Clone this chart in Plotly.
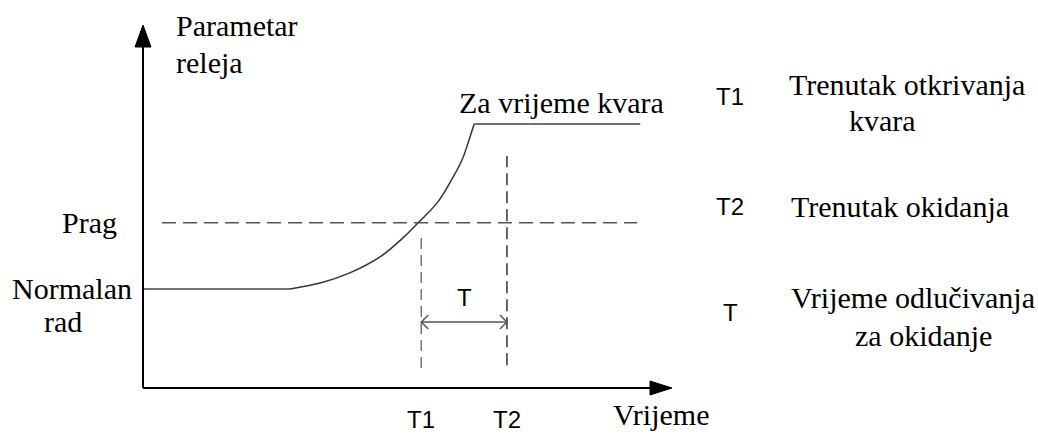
import plotly.graph_objects as go

# relay parameter against time, axis units: origin at (0, 0), axis arrows end at 10
normal_x = [0.0, 2.78]
normal_y = [2.73, 2.73]
rise_x = [2.78, 3.35, 3.91, 4.48, 4.91, 5.20, 5.56, 5.80, 6.03, 6.18, 6.26]
rise_y = [2.73, 2.89, 3.17, 3.61, 4.13, 4.55, 5.10, 5.65, 6.28, 6.91, 7.27]
fault_x = [6.26, 9.40]
fault_y = [7.27, 7.27]

threshold = 4.55
threshold_x = [0.36, 9.34]
t1, t2 = 5.26, 6.88
t1_span = [0.55, 4.27]
t2_span = [0.63, 6.39]
delay_y = 1.82

key_labels = ["T1", "T2", "T"]
key_lines = [["Trenutak otkrivanja", "kvara"], ["Trenutak okidanja"],
             ["Vrijeme odlučivanja", "za okidanje"]]

# pixel scale of the axes (px per unit) used for arrowhead sizes
px_x = 52.9
px_y = 36.3
W, H = 1038, 434
ox, oy = 143, 388   # origin of the axes, px from top-left

SERIF = "'Liberation Serif', 'Times New Roman', serif"
SANS = "'Liberation Sans', Arial, sans-serif"

fig = go.Figure()

fig.add_trace(go.Scatter(x=normal_x, y=normal_y, mode="lines",
                         line=dict(color="#444", width=1.5)))
fig.add_trace(go.Scatter(x=rise_x, y=rise_y, mode="lines",
                         line=dict(color="#333", width=1.5, shape="spline")))
fig.add_trace(go.Scatter(x=fault_x, y=fault_y, mode="lines",
                         line=dict(color="#444", width=1.5)))

# threshold and the two moments
fig.add_trace(go.Scatter(x=threshold_x, y=[threshold, threshold], mode="lines",
                         line=dict(color="#555", width=1.5, dash="14px,7px")))
fig.add_trace(go.Scatter(x=[t1, t1], y=t1_span, mode="lines",
                         line=dict(color="#777", width=1.5, dash="11px,6px")))
fig.add_trace(go.Scatter(x=[t2, t2], y=t2_span, mode="lines",
                         line=dict(color="#333", width=1.5, dash="12px,6px")))
fig.add_trace(go.Scatter(x=[t1, t2], y=[delay_y, delay_y], mode="lines",
                         line=dict(color="#555", width=1.5)))

shapes = []
# axes with filled arrowheads
hl_y, hw_x = 22 / px_y, 8 / px_x
hl_x, hw_y = 22 / px_x, 7 / px_y
shapes.append(dict(type="line", x0=0, y0=0, x1=0, y1=10 - hl_y,
                   line=dict(color="black", width=2)))
shapes.append(dict(type="line", x0=0, y0=0, x1=10 - hl_x, y1=0,
                   line=dict(color="black", width=2)))
shapes.append(dict(type="path",
                   path=f"M0,10 L{-hw_x},{10 - hl_y} L{hw_x},{10 - hl_y} Z",
                   fillcolor="black", line=dict(color="black", width=1)))
shapes.append(dict(type="path",
                   path=f"M10,0 L{10 - hl_x},{hw_y} L{10 - hl_x},{-hw_y} Z",
                   fillcolor="black", line=dict(color="black", width=1)))
# open chevrons of the delay arrow
cx, cy = 7 / px_x, 7 / px_y
shapes.append(dict(type="path",
                   path=f"M{t1 + cx},{delay_y + cy} L{t1},{delay_y} L{t1 + cx},{delay_y - cy}",
                   line=dict(color="#555", width=1.5)))
shapes.append(dict(type="path",
                   path=f"M{t2 - cx},{delay_y + cy} L{t2},{delay_y} L{t2 - cx},{delay_y - cy}",
                   line=dict(color="#555", width=1.5)))

serif = dict(family=SERIF, size=30, color="black")
sans = dict(family=SANS, size=24, color="black")

ann = []
ann.append(dict(x=0.58, y=10.0, text="Parametar", xanchor="left", font=serif))
ann.append(dict(x=0.58, y=8.98, text="releja", xanchor="left", font=serif))
ann.append(dict(x=-0.45, y=threshold, text="Prag", xanchor="right", font=serif))
ann.append(dict(x=-1.34, y=2.75, text="Normalan", xanchor="center", font=serif))
ann.append(dict(x=-1.51, y=1.82, text="rad", xanchor="center", font=serif))
ann.append(dict(x=5.94, y=7.87, text="Za vrijeme kvara", xanchor="left", font=serif))
ann.append(dict(x=8.85, y=-0.74, text="Vrijeme", xanchor="left", font=serif))
ann.append(dict(x=t1, y=-0.88, text="T1", xanchor="center", font=sans))
ann.append(dict(x=t2, y=-0.88, text="T2", xanchor="center", font=sans))
ann.append(dict(x=(t1 + t2) / 2, y=2.48, text="T", xanchor="center", font=sans))

key_y = [8.02, 4.99, 2.07]
line_pos = [[(14.44, 8.35), (13.97, 7.38)],
            [(14.31, 4.99)],
            [(14.56, 2.48), (14.76, 1.46)]]
for lab, lines, ky, pos in zip(key_labels, key_lines, key_y, line_pos):
    ann.append(dict(x=11.1, y=ky, text=lab, xanchor="center", font=sans))
    for txt, (tx, ty) in zip(lines, pos):
        ann.append(dict(x=tx, y=ty, text=txt, xanchor="center", font=serif))

for a in ann:
    a.update(xref="x", yref="y", showarrow=False, yanchor="middle")

fig.update_layout(
    width=W, height=H,
    margin=dict(l=0, r=0, t=0, b=0),
    paper_bgcolor="white", plot_bgcolor="white",
    showlegend=False,
    shapes=shapes, annotations=ann,
    xaxis=dict(range=[-ox / px_x, (W - ox) / px_x], visible=False, fixedrange=True),
    yaxis=dict(range=[-(H - oy) / px_y, oy / px_y], visible=False, fixedrange=True),
)

# drop the default 8px page margin so the figure fills the window exactly
fig.write_html("out.html", config={"displayModeBar": False},
               post_script="document.body.style.margin='0';document.body.style.overflow='hidden';")
